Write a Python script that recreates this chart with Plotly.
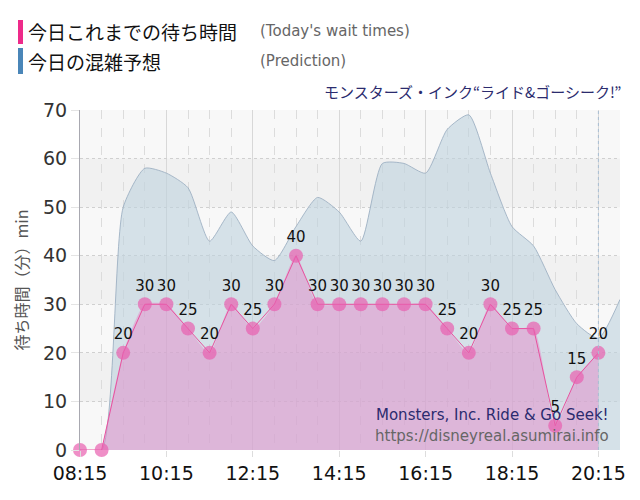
import plotly.graph_objects as go

# ── data ─────────────────────────────────────────────
DAY = "2024-01-01 "
wait_times = ["08:15", "08:45", "09:15", "09:45", "10:15", "10:45", "11:15", "11:45",
              "12:15", "12:45", "13:15", "13:45", "14:15", "14:45", "15:15", "15:45",
              "16:15", "16:45", "17:15", "17:45", "18:15", "18:45", "19:15", "19:45",
              "20:15"]
wait_values = [0, 0, 20, 30, 30, 25, 20, 30, 25, 30, 40, 30, 30, 30, 30, 30,
               30, 25, 20, 30, 25, 25, 5, 15, 20]

pred_times = wait_times + ["20:45"]
pred_values = [0, 0, 50, 58, 57, 54, 43, 49, 42, 39, 46, 52, 49, 43, 59, 59,
               57, 66, 69, 57, 46, 42, 33, 26, 23, 31]

x_ticks = ["08:15", "10:15", "12:15", "14:15", "16:15", "18:15", "20:15"]

JP = "Noto Sans CJK JP"
LAT = "DejaVu Sans"

wx = [DAY + t for t in wait_times]
px_ = [DAY + t for t in pred_times]

fig = go.Figure()

# prediction area
fig.add_trace(go.Scatter(
    x=px_, y=pred_values, mode="lines", fill="tozeroy",
    line=dict(shape="spline", smoothing=0.6, color="rgba(150,170,190,0.8)", width=1),
    fillcolor="rgba(190,210,222,0.6)", hoverinfo="skip", showlegend=False,
))

# wait-time fill (smoothed)
fig.add_trace(go.Scatter(
    x=wx[1:], y=wait_values[1:], mode="lines", fill="tozeroy",
    line=dict(shape="spline", smoothing=0.6, width=0, color="rgba(0,0,0,0)"),
    fillcolor="rgba(230,130,200,0.45)", hoverinfo="skip", showlegend=False,
))

# wait-time line + markers
fig.add_trace(go.Scatter(
    x=wx, y=wait_values, mode="lines+markers+text",
    line=dict(color="#e8529f", width=1),
    marker=dict(size=14, color="rgba(232,95,175,0.7)", line=dict(width=0)),
    text=[str(v) if i > 1 else "" for i, v in enumerate(wait_values)],
    textposition="top center",
    textfont=dict(family=LAT, size=15, color="#111"),
    cliponaxis=False, showlegend=False,
))

# alternating background bands
shapes = []
for k in range(7):
    shapes.append(dict(type="rect", xref="paper", yref="y", x0=0, x1=1,
                       y0=k * 10, y1=k * 10 + 10, layer="below", line=dict(width=0),
                       fillcolor="#f8f8f8" if k % 2 == 0 else "#f1f1f1"))
# current-time marker
shapes.append(dict(type="line", xref="x", yref="paper", x0=DAY + "20:15", x1=DAY + "20:15",
                   y0=0, y1=1, line=dict(color="#a9bfd3", width=1, dash="dot")))


# pixel helpers (screen px): plot area x 80..620, y 110..450
def fx(px):
    return (px - 80) / 540


def fy(py):
    return (450 - py) / 340


# legend bars
shapes.append(dict(type="rect", xref="paper", yref="paper", x0=fx(18), x1=fx(23),
                   y0=fy(44), y1=fy(20), fillcolor="#ee2a8a", line=dict(width=0)))
shapes.append(dict(type="rect", xref="paper", yref="paper", x0=fx(18), x1=fx(23),
                   y0=fy(74), y1=fy(48), fillcolor="#4a86b8", line=dict(width=0)))

annotations = [
    dict(text="今日これまでの待ち時間", x=fx(26), y=fy(32), xanchor="left", yanchor="middle",
         font=dict(family=JP, size=19, color="#111")),
    dict(text="(Today's wait times)", x=fx(258), y=fy(31), xanchor="left", yanchor="middle",
         font=dict(family=LAT, size=15, color="#666")),
    dict(text="今日の混雑予想", x=fx(26), y=fy(61), xanchor="left", yanchor="middle",
         font=dict(family=JP, size=19, color="#111")),
    dict(text="(Prediction)", x=fx(258), y=fy(61), xanchor="left", yanchor="middle",
         font=dict(family=LAT, size=15, color="#666")),
    dict(text="モンスターズ・インク“ライド&ゴーシーク!”", x=fx(623), y=fy(92),
         xanchor="right", yanchor="middle", font=dict(family=JP, size=15, color="#2b2b6e")),
    dict(text="Monsters, Inc. Ride & Go Seek!", x=fx(611), y=fy(415),
         xanchor="right", yanchor="middle", font=dict(family=LAT, size=15, color="#2b2b6e")),
    dict(text="https://disneyreal.asumirai.info", x=fx(611), y=fy(436),
         xanchor="right", yanchor="middle", font=dict(family=LAT, size=15, color="#666")),
]
for a in annotations:
    a.update(xref="paper", yref="paper", showarrow=False)

# page body has an 8px margin, so figure coords = screen coords - 8
fig.update_layout(
    width=640, height=500,
    margin=dict(l=72, r=28, t=102, b=58),
    paper_bgcolor="white", plot_bgcolor="#f3f3f3",
    shapes=shapes, annotations=annotations,
    xaxis=dict(
        range=[DAY + "08:15", DAY + "20:45"],
        tickvals=[DAY + t for t in x_ticks], ticktext=x_ticks,
        tickfont=dict(family=LAT, size=19, color="#111"),
        showgrid=True, gridcolor="#d8d8d8", gridwidth=1,
        ticks="outside", ticklen=6, tickcolor="#ddd",
        minor=dict(dtick=1800000, tick0=DAY + "08:15", showgrid=True,
                   gridcolor="#dcdcdc", griddash="dash", gridwidth=1),
        zeroline=False, showline=False, automargin=False,
    ),
    yaxis=dict(
        range=[0, 70], dtick=10,
        tickfont=dict(family=LAT, size=19, color="#333"),
        showgrid=True, gridcolor="#d0d0d0", griddash="dot", gridwidth=1,
        ticks="outside", ticklen=8, tickcolor="#e4e4e4",
        showline=True, linecolor="#a8a8b0", linewidth=1,
        zeroline=False, automargin=False,
        title=dict(text="待ち時間（分）min", font=dict(family=JP, size=16, color="#555"),
                   standoff=10),
    ),
)

fig.write_html("out.html")
